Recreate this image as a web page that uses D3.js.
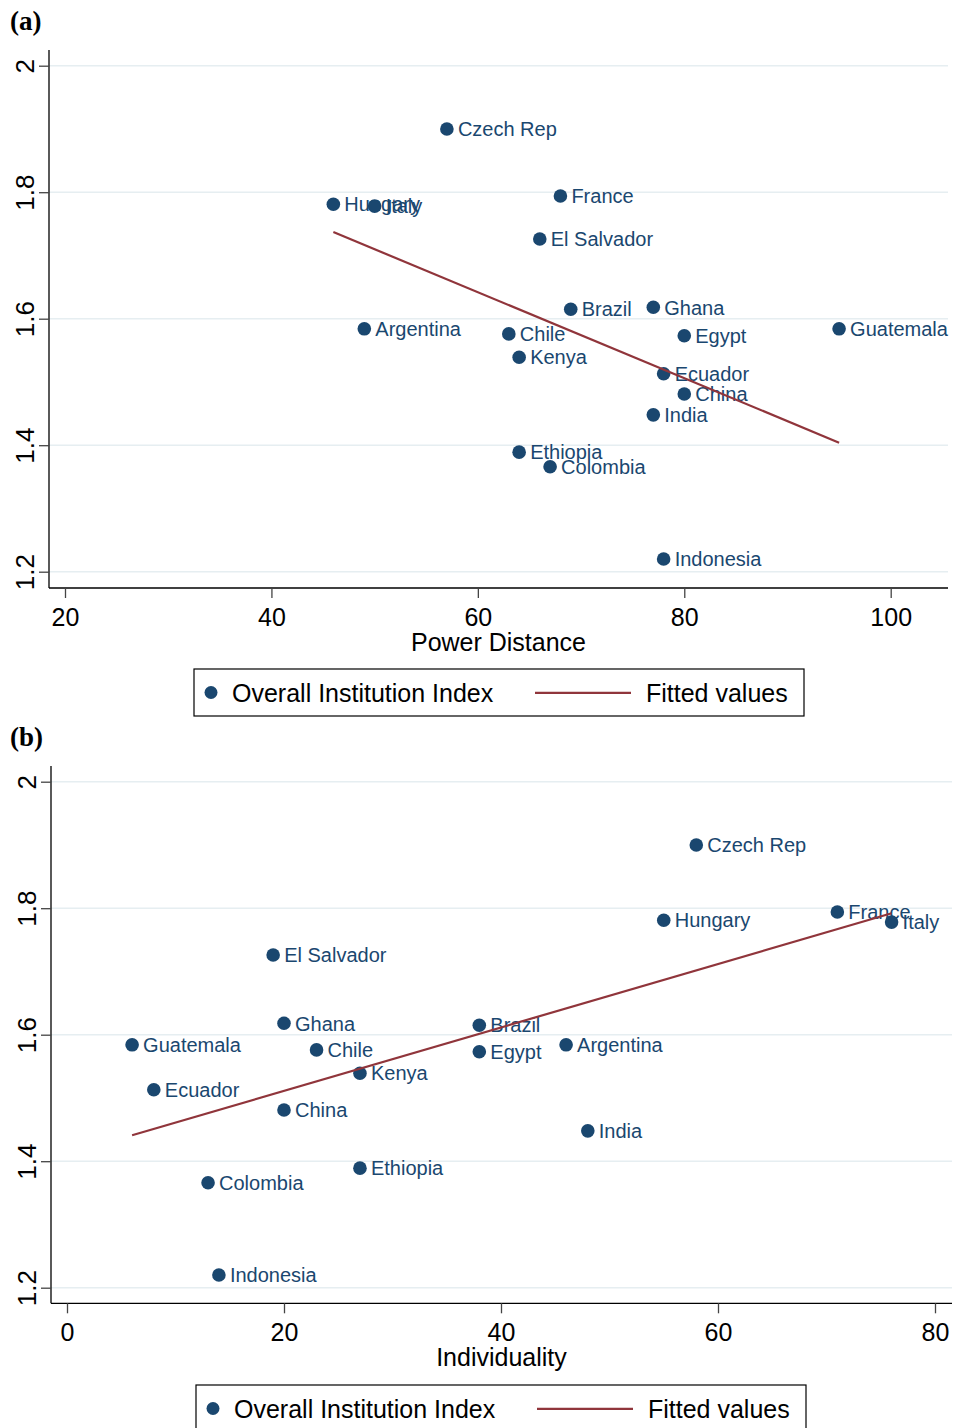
<!DOCTYPE html>
<html>
<head>
<meta charset="utf-8">
<script src="https://cdn.jsdelivr.net/npm/d3@7"></script>
<style>
  html, body { margin: 0; padding: 0; background: #ffffff; }
  svg { display: block; }
</style>
</head>
<body>
<svg id="chart" width="954" height="1428"></svg>
<script>
// ---- Data ----
const countries = ["Czech Rep", "Hungary", "Italy", "France", "El Salvador", "Brazil", "Ghana",
  "Argentina", "Chile", "Egypt", "Guatemala", "Kenya", "Ecuador", "China", "India",
  "Ethiopia", "Colombia", "Indonesia"];
const institutionIndex = [1.900, 1.781, 1.778, 1.794, 1.726, 1.615, 1.618,
  1.584, 1.576, 1.573, 1.584, 1.539, 1.513, 1.481, 1.448,
  1.389, 1.366, 1.220];
const powerDistance = [57, 46, 50, 68, 66, 69, 77,
  49, 63, 80, 95, 64, 78, 80, 77,
  64, 67, 78];
const individuality = [58, 55, 76, 71, 19, 38, 20,
  46, 23, 38, 6, 27, 8, 20, 48,
  27, 13, 14];

const yTicks = [1.2, 1.4, 1.6, 1.8, 2];
const yTickLabels = ["1.2", "1.4", "1.6", "1.8", "2"];
const xTicksA = [20, 40, 60, 80, 100];
const xTicksB = [0, 20, 40, 60, 80];

// Fitted-value line endpoints
const fitXA = [46, 95];
const fitYA = [1.737, 1.404];
const fitXB = [6, 76];
const fitYB = [1.441, 1.792];

const panelTitles = ["(a)", "(b)"];
const xTitles = ["Power Distance", "Individuality"];
const legendLabels = ["Overall Institution Index", "Fitted values"];

// ---- Styles ----
const navy = "#1a476f";
const maroon = "#90353b";
const gridColor = "#e6eef1";
const sans = "'Liberation Sans', Arial, Helvetica, sans-serif";
const serif = "'Liberation Serif', 'Times New Roman', serif";

const svg = d3.select("#chart");

function drawPanel(opt) {
  const g = svg.append("g").attr("transform", `translate(0,${opt.offY})`);

  const x = d3.scaleLinear().domain(opt.xDomain).range(opt.xRange);
  const y = d3.scaleLinear().domain([1.2, 2]).range([571.7, 65.7]);

  // panel title
  g.append("text")
    .attr("x", 10).attr("y", 30)
    .attr("font-family", serif).attr("font-weight", "bold")
    .attr("font-size", 27).attr("fill", "#000")
    .text(opt.title);

  // gridlines
  g.append("g").selectAll("line").data(yTicks).join("line")
    .attr("x1", opt.axisLeft).attr("x2", opt.axisRight)
    .attr("y1", d => y(d)).attr("y2", d => y(d))
    .attr("stroke", gridColor).attr("stroke-width", 1.6);

  // y axis
  const yAxis = d3.axisLeft(y).tickValues(yTicks)
    .tickFormat((d, i) => yTickLabels[i]).tickSize(10).tickPadding(5);
  const ya = g.append("g").attr("transform", `translate(${opt.axisLeft},0)`).call(yAxis);
  ya.select(".domain").attr("d", `M0,${opt.axisTop}V${opt.axisBottom}`)
    .attr("stroke", "#000").attr("stroke-width", 1.3);
  ya.selectAll(".tick line").attr("stroke", "#444").attr("stroke-width", 1.3);
  ya.selectAll(".tick text")
    .attr("font-family", sans).attr("font-size", 26).attr("fill", "#000")
    .attr("text-anchor", "middle")
    .attr("x", 0).attr("dy", 0)
    .attr("transform", "translate(-15,0) rotate(-90)")
    .attr("y", 0);

  // x axis
  const xAxis = d3.axisBottom(x).tickValues(opt.xTicks).tickSize(10).tickPadding(5)
    .tickFormat(d3.format("d"));
  const xa = g.append("g").attr("transform", `translate(0,${opt.axisBottom})`).call(xAxis);
  xa.select(".domain").attr("d", `M${opt.axisLeft},0H${opt.axisRight}`)
    .attr("stroke", "#000").attr("stroke-width", 1.3);
  xa.selectAll(".tick line").attr("stroke", "#444").attr("stroke-width", 1.3);
  xa.selectAll(".tick text")
    .attr("font-family", sans).attr("font-size", 25).attr("fill", "#000")
    .attr("y", 38).attr("dy", 0);

  // x title
  g.append("text")
    .attr("x", (opt.axisLeft + opt.axisRight) / 2).attr("y", opt.axisBottom + 62.5)
    .attr("text-anchor", "middle")
    .attr("font-family", sans).attr("font-size", 25).attr("fill", "#000")
    .text(opt.xTitle);

  // scatter points
  const pts = countries.map((c, i) => ({ c, xv: opt.xVals[i], yv: institutionIndex[i] }));
  const pg = g.append("g");
  pg.selectAll("circle").data(pts).join("circle")
    .attr("cx", d => x(d.xv)).attr("cy", d => y(d.yv)).attr("r", 6.8)
    .attr("fill", navy);
  pg.selectAll("text").data(pts).join("text")
    .attr("x", d => x(d.xv) + 11).attr("y", d => y(d.yv) + 7.2)
    .attr("font-family", sans).attr("font-size", 20).attr("fill", navy)
    .text(d => d.c);

  // fitted line
  const line = d3.line().x(d => x(d[0])).y(d => y(d[1]));
  g.append("path")
    .datum(opt.fitX.map((v, i) => [v, opt.fitY[i]]))
    .attr("d", line)
    .attr("fill", "none").attr("stroke", maroon).attr("stroke-width", 2.2);

  // legend
  const lg = g.append("g").attr("transform", `translate(${opt.legendDx},0)`);
  lg.append("rect").attr("x", 194).attr("y", 669).attr("width", 610).attr("height", 47)
    .attr("fill", "#fff").attr("stroke", "#000").attr("stroke-width", 1.2);
  lg.append("circle").attr("cx", 211).attr("cy", 692.5).attr("r", 6.5).attr("fill", navy);
  lg.append("text").attr("x", 232).attr("y", 702)
    .attr("font-family", sans).attr("font-size", 25).attr("fill", "#000")
    .text(legendLabels[0]);
  lg.append("line").attr("x1", 535).attr("x2", 631).attr("y1", 692.8).attr("y2", 692.8)
    .attr("stroke", maroon).attr("stroke-width", 2.2);
  lg.append("text").attr("x", 646).attr("y", 702)
    .attr("font-family", sans).attr("font-size", 25).attr("fill", "#000")
    .text(legendLabels[1]);
}

drawPanel({
  offY: 0, title: panelTitles[0], xTitle: xTitles[0],
  xDomain: [20, 100], xRange: [65, 890.7], xTicks: xTicksA, xVals: powerDistance,
  axisLeft: 49, axisRight: 948, axisTop: 50, axisBottom: 588,
  fitX: fitXA, fitY: fitYA, legendDx: 0
});

drawPanel({
  offY: 716, title: panelTitles[1], xTitle: xTitles[1],
  xDomain: [0, 80], xRange: [67, 935], xTicks: xTicksB, xVals: individuality,
  axisLeft: 51, axisRight: 952, axisTop: 50, axisBottom: 587.3,
  fitX: fitXB, fitY: fitYB, legendDx: 2
});
</script>
</body>
</html>
